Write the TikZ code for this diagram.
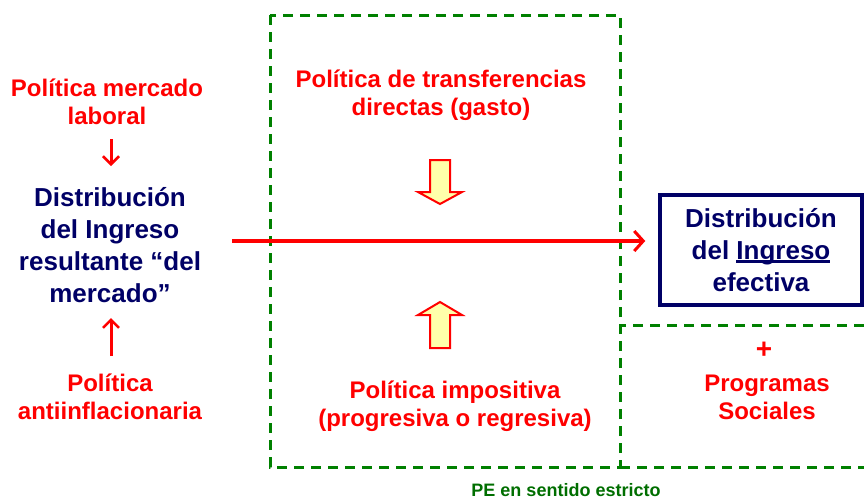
\documentclass[tikz,border=0pt]{standalone}
\usepackage{fontspec}
\setmainfont{Liberation Sans}
\usetikzlibrary{arrows.meta}
\definecolor{polred}{RGB}{255,0,0}
\definecolor{distblue}{RGB}{0,0,102}
\definecolor{pegreen}{RGB}{0,128,0}
\definecolor{pegreentxt}{RGB}{0,110,0}
\definecolor{blkfill}{RGB}{255,255,170}
\newcommand\ulword[1]{\setbox0\hbox{#1}\rlap{\rule[-3.5pt]{\wd0}{2.5pt}}\box0}
\tikzset{
	pol/.style={text=polred, font=\bfseries\fontsize{24}{28}\selectfont, align=center, inner sep=0pt},
	dist/.style={text=distblue, font=\bfseries\fontsize{26}{32}\selectfont, align=center, inner sep=0pt},
	pebox/.style={draw=pegreen, line width=3pt, dash pattern=on 10pt off 7pt},
	blk/.style={draw=polred, fill=blkfill, line width=2pt, line join=miter},
	smarr/.style={draw=polred, line width=3pt, -{Straight Barb[length=8pt,width=16pt,line width=2.5pt]}},
	mainarr/.style={draw=polred, line width=4pt, -{Straight Barb[length=9pt,width=20pt,line width=3pt]}}
}
\begin{document}
\begin{tikzpicture}[x=1pt,y=-1pt]
	\useasboundingbox (0,0) rectangle (864,499);
	
	\draw [pebox] (270,15) rectangle (620,467);
	\draw [pebox] (864,325) -- (620,325);
	\draw [pebox] (620,467) -- (864,467);
	\node (pe) at (566,490) [text=pegreentxt, font=\bfseries\fontsize{18}{20}\selectfont] {PE en sentido estricto};
	
	\node (mlab) at (107,102) [pol] {Política mercado\\laboral};
	\node (dist) at (110,245) [dist] {Distribución\\del Ingreso\\resultante “del\\mercado”};
	\node (antiinf) at (110,397) [pol] {Política\\antiinflacionaria};
	\coordinate (d1) at (111,139); \coordinate (d2) at (111,166);
	\coordinate (u1) at (111,356); \coordinate (u2) at (111,318);
	\draw [smarr] (d1) -- (d2);
	\draw [smarr] (u1) -- (u2);
	
	\node (transf) at (441,95) [pol] {Política de transferencias\\directas (gasto)};
	\draw [blk] (430,160) -- (450,160) -- (450,192) -- (462,192) -- (440,204) -- (418,192) -- (430,192) -- cycle;
	\draw [blk] (430,348) -- (450,348) -- (450,315) -- (462,315) -- (440,302) -- (418,315) -- (430,315) -- cycle;
	\node (impos) at (455,406) [pol] {Política impositiva\\(progresiva o regresiva)};
	
	\node (efect) at (761,250) [dist, draw=distblue, line width=3.5pt, minimum width=202pt, minimum height=110pt] {Distribución\\del \ulword{Ingreso}\\efectiva};
	\coordinate (start) at (232,241);
	\draw [mainarr, shorten >=13pt] (start) -- (efect.west |- start);
	
	\node (plus) at (764,350) [pol, font=\bfseries\fontsize{28}{28}\selectfont] {+};
	\node (prog) at (767,397) [pol] {Programas\\Sociales};
\end{tikzpicture}
\end{document}
